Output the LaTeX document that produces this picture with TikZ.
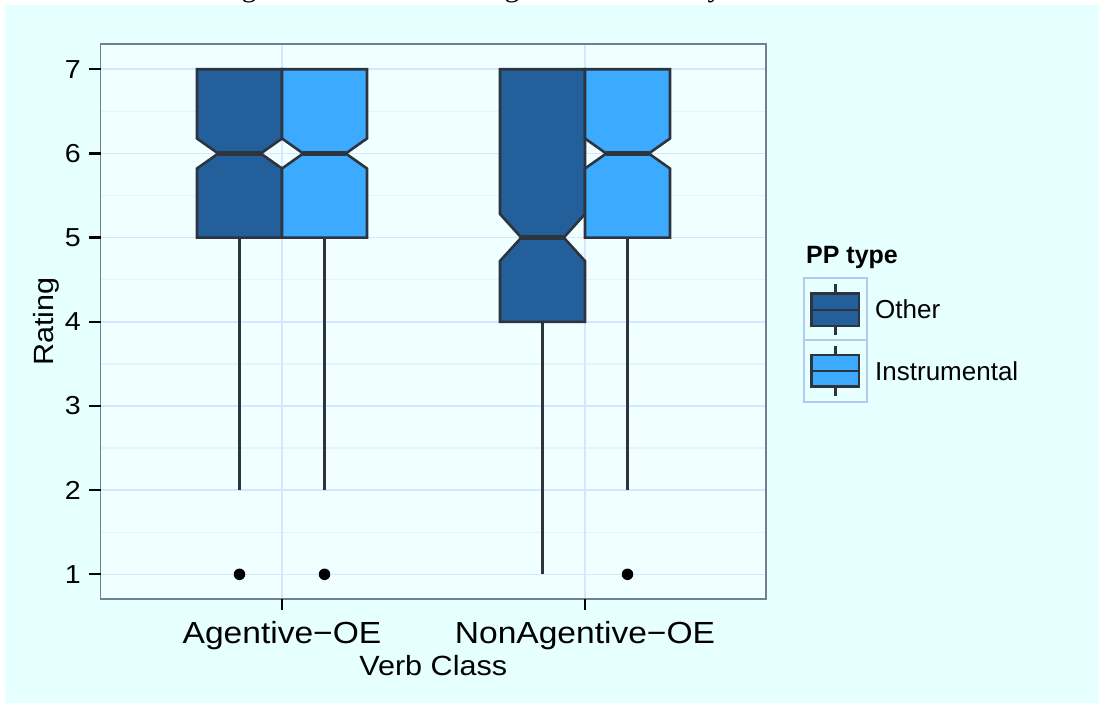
\documentclass[tikz,border=0pt]{standalone}
\usepackage{fontspec}
\setmainfont{Liberation Sans}
\newfontfamily\widesans[FakeStretch=1.1]{Liberation Sans}
\newfontfamily\capserif{Liberation Serif}
\definecolor{outerbg}{RGB}{230,255,255}
\definecolor{panelbg}{RGB}{240,255,255}
\definecolor{majgrid}{RGB}{214,230,255}
\definecolor{mingrid}{RGB}{228,244,255}
\definecolor{frame}{RGB}{112,128,144}
\definecolor{boxline}{RGB}{45,52,62}
\definecolor{otherfill}{RGB}{35,96,155}
\definecolor{instrfill}{RGB}{60,170,255}
\definecolor{keyframe}{RGB}{180,200,240}
\begin{document}
\begin{tikzpicture}[x=1bp,y=-1bp,
  majorgrid/.style={draw=majgrid,line width=1.6bp},
  minorgrid/.style={draw=mingrid,line width=1.3bp},
  boxshape/.style={draw=boxline,line width=2.6bp,line join=miter},
  otherbox/.style={boxshape,fill=otherfill},
  instrbox/.style={boxshape,fill=instrfill},
  medianline/.style={draw=boxline,line width=5.5bp},
  whisker/.style={draw=boxline,line width=2.5bp},
  outlier/.style={circle,fill=black,inner sep=0pt,minimum size=11.5bp},
  tickmark/.style={draw=black,line width=2.3bp},
  ylab/.style={anchor=east,inner sep=0pt,font=\widesans\fontsize{26bp}{30bp}\selectfont},
  xlab/.style={anchor=base,inner sep=0pt,font=\widesans\fontsize{30.5bp}{34bp}\selectfont},
  axtitle/.style={anchor=base,inner sep=0pt,font=\widesans\fontsize{27.8bp}{32bp}\selectfont},
  keybox/.style={draw=keyframe,line width=2bp},
  keytext/.style={anchor=base west,inner sep=0pt,font=\fontsize{26bp}{30bp}\selectfont},
  capfrag/.style={anchor=base,inner sep=0pt,font=\capserif\fontsize{30bp}{34bp}\selectfont}]
\useasboundingbox (0,0) rectangle (1099,703);
\fill[white] (-5,-5) rectangle (1110,710);
\fill[outerbg] (5,5) rectangle (1110,710);

% tails of the caption line above the figure
\begin{scope}
  \clip (0,0) rectangle (1099,5);
  \node[capfrag] (capg1) at (249,-3) {g};
  \node[capfrag] (capg2) at (512,-3) {g};
  \node[capfrag] (capy) at (715,-3) {y};
\end{scope}

% panel and grid
\fill[panelbg] (100.5,44) rectangle (766,599);
\foreach \v in {111.4,195.6,279.7,363.9,448.0,532.2}
  \draw[minorgrid] (100.5,\v) -- (766,\v);
\foreach \v in {69.3,153.5,237.6,321.8,406.0,490.1,574.3}
  \draw[majorgrid] (100.5,\v) -- (766,\v);
\draw[majorgrid] (282,44) -- (282,599);
\draw[majorgrid] (585,44) -- (585,599);

% Agentive-OE, Other
\draw[whisker] (239.5,237.6) -- (239.5,490.1);
\draw[otherbox] (197,69.3) -- (282,69.3) -- (282,138.5) -- (260.75,153.5) -- (282,168.5)
  -- (282,237.6) -- (197,237.6) -- (197,168.5) -- (218.25,153.5) -- (197,138.5) -- cycle;
\draw[medianline] (218.25,153.5) -- (260.75,153.5);
\node[outlier] (o1) at (239.5,574.3) {};

% Agentive-OE, Instrumental
\draw[whisker] (324.5,237.6) -- (324.5,490.1);
\draw[instrbox] (282,69.3) -- (367,69.3) -- (367,138.5) -- (345.75,153.5) -- (367,168.5)
  -- (367,237.6) -- (282,237.6) -- (282,168.5) -- (303.25,153.5) -- (282,138.5) -- cycle;
\draw[medianline] (303.25,153.5) -- (345.75,153.5);
\node[outlier] (o2) at (324.5,574.3) {};

% NonAgentive-OE, Other
\draw[whisker] (542.5,321.8) -- (542.5,574.3);
\draw[otherbox] (500,69.3) -- (585,69.3) -- (585,214) -- (563.75,237.6) -- (585,261)
  -- (585,321.8) -- (500,321.8) -- (500,261) -- (521.25,237.6) -- (500,214) -- cycle;
\draw[medianline] (521.25,237.6) -- (563.75,237.6);

% NonAgentive-OE, Instrumental
\draw[whisker] (627.5,237.6) -- (627.5,490.1);
\draw[instrbox] (585,69.3) -- (670,69.3) -- (670,138.5) -- (648.75,153.5) -- (670,168.5)
  -- (670,237.6) -- (585,237.6) -- (585,168.5) -- (606.25,153.5) -- (585,138.5) -- cycle;
\draw[medianline] (606.25,153.5) -- (648.75,153.5);
\node[outlier] (o3) at (627.5,574.3) {};

% panel frame
\draw[draw=frame,line width=1.9bp] (100.5,44) rectangle (766,599);

% y axis
\foreach \v/\t in {69.3/7,153.5/6,237.6/5,321.8/4,406.0/3,490.1/2,574.3/1} {
  \draw[tickmark] (89,\v) -- (100.5,\v);
  \node[ylab] (ytick\t) at (81,\v) {\t};
}
\node[axtitle,rotate=90] (ytitle) at (53,321.5) {Rating};

% x axis
\draw[tickmark] (282,599) -- (282,610);
\draw[tickmark] (585,599) -- (585,610);
\node[xlab] (xag) at (282,643.3) {Agentive−OE};
\node[xlab] (xnag) at (585,643.3) {NonAgentive−OE};
\node[axtitle] (xtitle) at (433.25,675) {Verb Class};

% legend
\node[anchor=base west,inner sep=0pt,font=\bfseries\fontsize{25bp}{30bp}\selectfont] (legtitle) at (806,263.3) {PP type};
\draw[keybox] (804,278.3) rectangle (867.3,340);
\draw[keybox] (804,340) rectangle (867.3,402.3);
\draw[whisker] (835.3,284) -- (835.3,335);
\draw[boxshape,fill=otherfill] (811.7,293.3) rectangle (859,326);
\draw[whisker,line width=2.6bp] (811.7,310) -- (859,310);
\draw[whisker] (835.3,346) -- (835.3,396);
\draw[boxshape,fill=instrfill] (811.7,355) rectangle (859,386.7);
\draw[whisker,line width=2.6bp] (811.7,371) -- (859,371);
\node[keytext] (legother) at (875,318.3) {Other};
\node[keytext] (leginstr) at (875,380) {Instrumental};
\end{tikzpicture}
\end{document}
